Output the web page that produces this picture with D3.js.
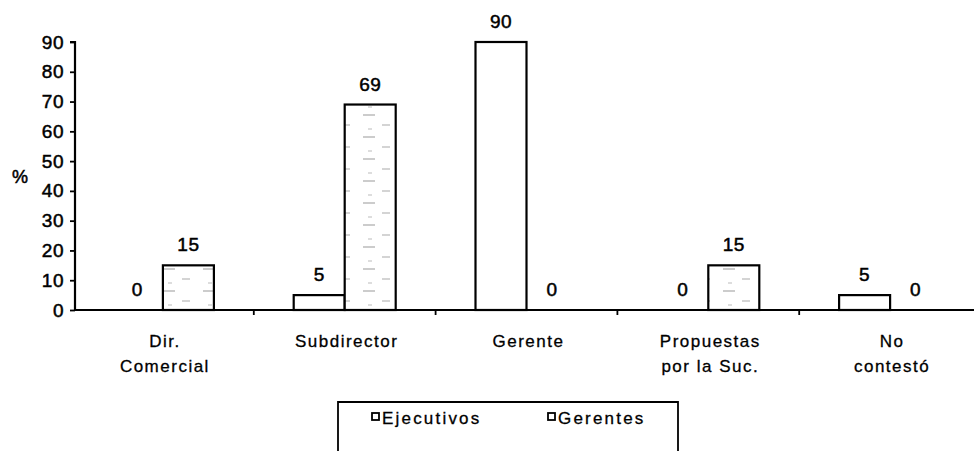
<!DOCTYPE html>
<html>
<head>
<meta charset="utf-8">
<script src="https://cdn.jsdelivr.net/npm/d3@7"></script>
<style>
  html, body { margin: 0; padding: 0; background: #fff; }
  svg { display: block; }
  text { font-family: "Liberation Sans", Arial, sans-serif; fill: #000; stroke: #000; stroke-width: 0.5px; }
  text.lbl { stroke-width: 0.3px; }
</style>
</head>
<body>
<svg id="chart" width="974" height="451"></svg>
<script>
// ---- Data ----
const categories = ["Dir. Comercial", "Subdirector", "Gerente", "Propuestas por la Suc.", "No contestó"];
const categoryLines = [["Dir.", "Comercial"], ["Subdirector"], ["Gerente"], ["Propuestas", "por la Suc."], ["No", "contestó"]];
const seriesNames = ["Ejecutivos", "Gerentes"];
const ejecutivos = [0, 5, 90, 0, 5];
const gerentes = [15, 69, 0, 15, 0];
const yTicks = [0, 10, 20, 30, 40, 50, 60, 70, 80, 90];
const yAxisTitle = "%";

// ---- Layout ----
const svg = d3.select("#chart");
const axisX = 75;
const x = d3.scaleBand().domain(categories).range([72, 981]).paddingInner(0).paddingOuter(0);
const barW = 51;
const xs = d3.scaleBand().domain(seriesNames).range([-barW, barW]);
const y = d3.scaleLinear().domain([0, 90]).range([310, 42]);

// sparse texture for Gerentes bars (scanned look)
const defs = svg.append("defs");
const pat = defs.append("pattern").attr("id", "gerPat").attr("patternUnits", "userSpaceOnUse")
  .attr("width", 40).attr("height", 22);
pat.append("rect").attr("width", 40).attr("height", 22).attr("fill", "#fff");
pat.append("line").attr("x1", 3).attr("x2", 15).attr("y1", 5).attr("y2", 5).attr("stroke", "#999").attr("stroke-width", 1);
pat.append("line").attr("x1", 22).attr("x2", 30).attr("y1", 15).attr("y2", 15).attr("stroke", "#aaa").attr("stroke-width", 1);
pat.append("line").attr("x1", 8).attr("x2", 12).attr("y1", 19).attr("y2", 19).attr("stroke", "#bbb").attr("stroke-width", 1);

const rows = categories.map((c, i) => ({ cat: c, vals: [ejecutivos[i], gerentes[i]] }));

// Bars
const g = svg.append("g");
rows.forEach(r => {
  r.vals.forEach((v, si) => {
    const cx = x(r.cat) + x.bandwidth() / 2;
    const bx = cx + xs(seriesNames[si]);
    if (v > 0) {
      g.append("rect")
        .attr("x", bx).attr("y", y(v))
        .attr("width", xs.bandwidth()).attr("height", y(0) - y(v))
        .attr("fill", si === 1 ? "url(#gerPat)" : "#fff")
        .attr("stroke", "#000").attr("stroke-width", 2.2);
    }
    g.append("text")
      .attr("x", bx + xs.bandwidth() / 2)
      .attr("y", y(v) - 14)
      .attr("text-anchor", "middle")
      .style("font-size", "19px")
      .style("letter-spacing", "0.5px")
      .text(v);
  });
});

// X axis line and ticks at category boundaries
svg.append("line").attr("x1", axisX).attr("x2", 974).attr("y1", y(0)).attr("y2", y(0))
  .attr("stroke", "#000").attr("stroke-width", 2.2);
categories.slice(1).forEach(c => {
  svg.append("line").attr("x1", x(c)).attr("x2", x(c)).attr("y1", y(0)).attr("y2", y(0) + 5)
    .attr("stroke", "#000").attr("stroke-width", 1.8);
});

// Category labels
categories.forEach((c, i) => {
  const cx = x(c) + x.bandwidth() / 2;
  categoryLines[i].forEach((line, li) => {
    svg.append("text").attr("class", "lbl").attr("x", cx + 2).attr("y", 347 + li * 25)
      .attr("text-anchor", "middle")
      .style("font-size", "17px").style("letter-spacing", "1.5px")
      .text(line);
  });
});

// Y axis
const yAxis = d3.axisLeft(y).tickValues(yTicks).tickSize(5).tickPadding(6).tickFormat(d3.format("d"));
const ya = svg.append("g").attr("transform", `translate(${axisX},0)`).call(yAxis);
ya.select(".domain").attr("stroke", "#000").attr("stroke-width", 2.2).attr("d", `M-5,${y(90)}H0V${y(0)}`);
ya.selectAll(".tick line").attr("stroke", "#000").attr("stroke-width", 1.8);
ya.selectAll(".tick text").style("font-family", "'Liberation Sans', Arial, sans-serif")
  .style("font-size", "19px").style("letter-spacing", "0.5px").attr("fill", "#000");

svg.append("text").attr("x", 20).attr("y", (y(0) + y(90)) / 2 + 7)
  .attr("text-anchor", "middle").style("font-size", "18px").text(yAxisTitle);

// Legend
const lg = svg.append("g");
lg.append("path").attr("d", "M338,460V402H678V460").attr("fill", "none").attr("stroke", "#000").attr("stroke-width", 1.8);
const legX = [372, 548];
seriesNames.forEach((s, i) => {
  lg.append("rect").attr("x", legX[i]).attr("y", 413).attr("width", 7).attr("height", 7)
    .attr("fill", "#fff").attr("stroke", "#000").attr("stroke-width", 1.8);
  lg.append("text").attr("class", "lbl").attr("x", legX[i] + 10).attr("y", 424)
    .style("font-size", "17px").style("letter-spacing", "2.2px").text(s);
});
</script>
</body>
</html>
